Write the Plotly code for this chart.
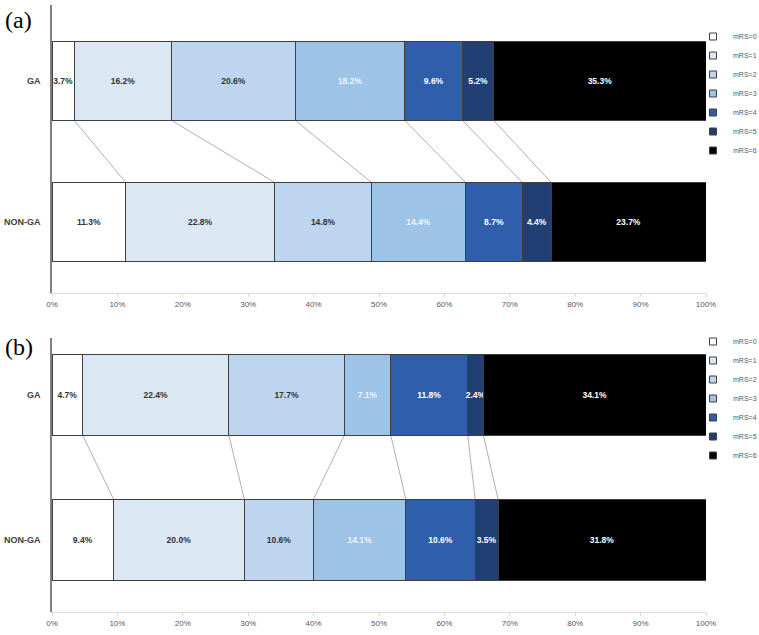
import plotly.graph_objects as go

categories = ["mRS=0", "mRS=1", "mRS=2", "mRS=3", "mRS=4", "mRS=5", "mRS=6"]
groups = ["GA", "NON-GA"]
a_ga = [3.7, 16.2, 20.6, 18.2, 9.6, 5.2, 35.3]
a_nonga = [11.3, 22.8, 14.8, 14.4, 8.7, 4.4, 23.7]
b_ga = [4.7, 22.4, 17.7, 7.1, 11.8, 2.4, 34.1]
b_nonga = [9.4, 20.0, 10.6, 14.1, 10.6, 3.5, 31.8]
x_ticks = [0, 10, 20, 30, 40, 50, 60, 70, 80, 90, 100]
x_ticktext = [f"{v}%" for v in x_ticks]

colors = ["#ffffff", "#dce7f4", "#bdd5ee", "#9dc3e6", "#2f5faa", "#213f72", "#000000"]
text_colors = ["#333333", "#333333", "#333333", "#eef4fb", "#ffffff", "#ffffff", "#ffffff"]

BAR_W = 0.56
fig = go.Figure()

panels = [
    (a_ga, a_nonga, "x", "y", "legend"),
    (b_ga, b_nonga, "x2", "y2", "legend2"),
]
for ga, non, xa, ya, lg in panels:
    for i, cat in enumerate(categories):
        fig.add_trace(go.Bar(
            x=[ga[i], non[i]], y=[1, 0], orientation="h", name=cat,
            xaxis=xa, yaxis=ya, showlegend=False, width=BAR_W,
            marker=dict(color=colors[i], line=dict(color="#404040", width=1)),
            text=[f"{ga[i]:.1f}%", f"{non[i]:.1f}%"],
            textposition="inside", insidetextanchor="middle", textangle=0,
            textfont=dict(color=text_colors[i], size=8.5, family="Liberation Sans",
                          weight="bold"),
            hoverinfo="skip",
        ))
        # legend entry (small square symbol)
        fig.add_trace(go.Scatter(
            x=[None], y=[None], mode="markers", name=cat, xaxis=xa, yaxis=ya,
            legend=lg, showlegend=True, hoverinfo="skip",
            marker=dict(symbol="square", size=7, color=colors[i],
                        line=dict(color="#404040", width=1)),
        ))
    # connecting lines between cumulative boundaries (normalised to 100%)
    sg, sn = sum(ga), sum(non)
    cg = cn = 0.0
    for i in range(len(categories) - 1):
        cg += ga[i]
        cn += non[i]
        fig.add_shape(type="line", xref=xa, yref=ya,
                      x0=cg / sg * 100, y0=1 - BAR_W / 2,
                      x1=cn / sn * 100, y1=0 + BAR_W / 2,
                      line=dict(color="#b0b0b0", width=1), layer="below")

xcommon = dict(range=[0, 100], tickvals=x_ticks, ticktext=x_ticktext, showgrid=False,
               zeroline=False, showline=True, linecolor="#d9d9d9", linewidth=1,
               ticks="outside", ticklen=3, tickcolor="#d9d9d9", automargin=False,
               tickfont=dict(size=8, color="#595959", family="Liberation Sans"))
ycommon = dict(tickvals=[1, 0], ticktext=["<b>GA</b>", "<b>NON-GA</b>"],
               showgrid=False, zeroline=False, showline=True, linecolor="#808080",
               linewidth=1.5, ticks="", ticklabelstandoff=8, automargin=False,
               tickfont=dict(size=9, color="#404040", family="Liberation Sans"))

legcommon = dict(xref="container", yref="container", xanchor="left", yanchor="top",
                 traceorder="normal", bgcolor="rgba(0,0,0,0)", itemwidth=30,
                 font=dict(size=7, color="#595959", family="Liberation Sans"))

fig.update_layout(
    width=759, height=635, margin=dict(l=52, r=53, t=5, b=23, autoexpand=False),
    paper_bgcolor="white", plot_bgcolor="white",
    barmode="stack", barnorm="percent", bargap=0.4,
    uniformtext=dict(minsize=8, mode="show"),
    xaxis=dict(domain=[0, 1], anchor="y", **xcommon),
    yaxis=dict(domain=[0.5255, 1.0], anchor="x", range=[-0.504, 1.539], **ycommon),
    xaxis2=dict(domain=[0, 1], anchor="y2", **xcommon),
    yaxis2=dict(domain=[0, 0.451], anchor="x2", range=[-0.5, 1.39], **ycommon),
    legend=dict(x=693 / 759, y=1 - 22 / 635, **legcommon),
    legend2=dict(x=693 / 759, y=1 - 327 / 635, **legcommon),
    annotations=[
        dict(text="(a)", xref="paper", yref="paper", x=-0.075, y=1.0, xanchor="left",
             yanchor="top", showarrow=False,
             font=dict(size=24, family="Liberation Serif", color="#000000")),
        dict(text="(b)", xref="paper", yref="paper", x=-0.075, y=0.462, xanchor="left",
             yanchor="top", showarrow=False,
             font=dict(size=24, family="Liberation Serif", color="#000000")),
    ],
)

fig.write_html("out.html")
